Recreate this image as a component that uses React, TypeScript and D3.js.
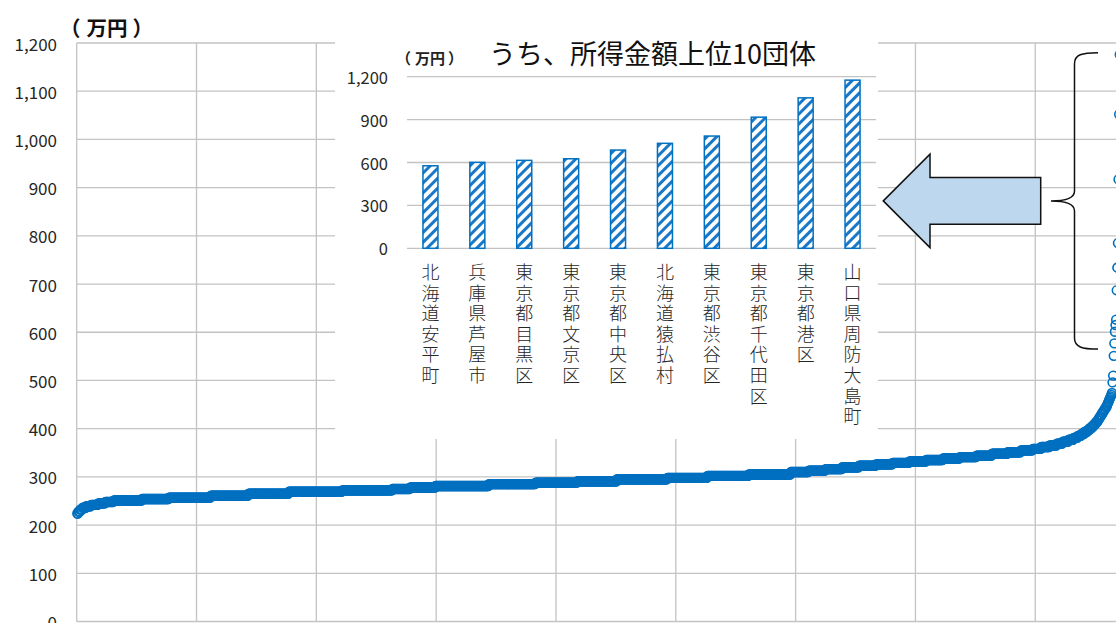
import React from "react";
import * as d3 from "d3";

// Taxable income per taxpayer of every municipality (万円), ascending.
// Each income level is paired with how many municipalities sit at it.
const incomeLevels = [
  224, 228, 232, 236, 239, 242, 245, 248,
  251, 254, 257, 261, 265, 269, 272, 275, 278, 281, 285, 288, 291, 295, 298, 302, 305,
  310, 313, 316, 320, 323, 326, 329, 332, 335, 338, 341, 344, 348, 351,
  355, 358, 362, 365, 369, 373, 377, 381, 385, 389, 393, 397, 401, 405, 409, 413,
  417, 421, 425, 429, 433, 437, 441, 445,
  449, 452, 455, 458, 461, 464, 467, 470, 474, 496, 510, 551,
];
const municipalityCounts = [
  2, 3, 4, 6, 8, 12, 12, 14,
  47, 45, 70, 63, 67, 89, 84, 30, 42, 89, 78, 70, 66, 84, 67, 69, 70,
  30, 28, 28, 28, 28, 28, 28, 28, 28, 28, 28, 26, 26, 22,
  20, 14, 14, 12, 10, 10, 8, 7, 6, 5, 5, 4, 4, 3, 3, 3,
  2, 2, 2, 2, 2, 2, 2, 2,
  1, 1, 1, 1, 1, 1, 1, 1, 1, 1, 1, 1,
];

// The ten highest municipalities (万円)
const topCategories = [
  "北海道安平町",
  "兵庫県芦屋市",
  "東京都目黒区",
  "東京都文京区",
  "東京都中央区",
  "北海道猿払村",
  "東京都渋谷区",
  "東京都千代田区",
  "東京都港区",
  "山口県周防大島町",
];
const topValues = [577, 601, 615, 626, 687, 734, 785, 917, 1052, 1176];

const mainYTicks = [0, 100, 200, 300, 400, 500, 600, 700, 800, 900, 1000, 1100, 1200];
const mainXTicks = [0, 200, 400, 600, 800, 1000, 1200, 1400, 1600, 1800];
const insetYTicks = [0, 300, 600, 900, 1200];

const W = 1116;
const H = 623;
const BLUE = "#0070C0";
const GRID = "#C3C3C3";
const FONT = "'Noto Sans CJK JP', 'Noto Sans', sans-serif";

type Pt = { rank: number; value: number };

export default function App() {
  // expand level/count pairs into ranked points, then append the top ten
  const points: Pt[] = [];
  let rank = 0;
  incomeLevels.forEach((v, i) => {
    for (let c = 0; c < municipalityCounts[i]; c++) {
      rank += 1;
      points.push({ rank, value: v });
    }
  });
  topValues.forEach((v) => {
    rank += 1;
    points.push({ rank, value: v });
  });

  const x = d3.scaleLinear().domain([0, 1800]).range([76.7, 76.7 + 1800 * 0.5991]);
  const y = d3.scaleLinear().domain([0, 1200]).range([621.5, 43]);

  // inset bar chart
  const inset = { left: 335, top: 30, right: 878, bottom: 439 };
  const bx = d3.scaleBand<string>().domain(topCategories).range([407, 876]).paddingInner(0.68).paddingOuter(0.34);
  const by = d3.scaleLinear().domain([0, 1200]).range([248.3, 76.7]);
  const fmt = d3.format(",");

  // brace spanning the top ten, and the arrow pointing to the inset
  const yTop = y(d3.max(topValues)! + 4);
  const yBot = y(d3.min(topValues)! - 12);
  const yMid = (yTop + yBot) / 2;
  const bxR = 1098;
  const bxV = 1074.5;
  const bxTip = 1051;
  const bracePath = [
    `M${bxR},${yTop}`,
    `C${bxR - 16},${yTop} ${bxV},${yTop + 2} ${bxV},${yTop + 11}`,
    `L${bxV},${yMid - 10}`,
    `C${bxV},${yMid - 3} ${bxV - 8},${yMid} ${bxTip},${yMid}`,
    `C${bxV - 8},${yMid} ${bxV},${yMid + 3} ${bxV},${yMid + 10}`,
    `L${bxV},${yBot - 11}`,
    `C${bxV},${yBot - 2} ${bxR - 16},${yBot} ${bxR},${yBot}`,
  ].join(" ");

  const tipX = inset.right + 5.3;
  const headX = 930;
  const tailX = 1040.7;
  const arrowPts = [
    [tipX, yMid],
    [headX, yMid - 46.7],
    [headX, yMid - 23.4],
    [tailX, yMid - 23.4],
    [tailX, yMid + 23.4],
    [headX, yMid + 23.4],
    [headX, yMid + 46.7],
  ]
    .map((p) => p.join(","))
    .join(" ");

  const labelTop = 271;
  const labelPitch = 20.6;

  return (
    <svg
      width={W}
      height={H}
      viewBox={`0 0 ${W} ${H}`}
      style={{ position: "absolute", left: 0, top: 0, background: "#fff", fontFamily: FONT }}
    >
      <defs>
        <pattern id="hatch" patternUnits="userSpaceOnUse" width={7} height={7} patternTransform="rotate(45)">
          <rect width={7} height={7} fill="#fff" />
          <rect x={0} y={0} width={3} height={7} fill="#1A78C8" />
        </pattern>
      </defs>
      <rect width={W} height={H} fill="#fff" />

      {/* main grid */}
      {mainYTicks.map((t) => (
        <line key={`hy${t}`} x1={x(0)} x2={W} y1={y(t)} y2={y(t)} stroke={GRID} strokeWidth={1.3} />
      ))}
      {mainXTicks.map((t) => (
        <line key={`vx${t}`} x1={x(t)} x2={x(t)} y1={y(1200)} y2={y(0)} stroke={GRID} strokeWidth={1.3} />
      ))}

      {/* main y axis labels */}
      {mainYTicks.map((t) => (
        <text key={`ly${t}`} x={57} y={y(t)} textAnchor="end" dominantBaseline="central" fontSize={17} fill="#262626">
          {fmt(t)}
        </text>
      ))}
      <text x={60} y={27} dominantBaseline="central" fontSize={20.5} fontWeight={600} fill="#111">
        <tspan>（</tspan>
        <tspan dx={6}>万円</tspan>
        <tspan dx={5}>）</tspan>
      </text>

      {/* municipalities */}
      <g fill="none" stroke={BLUE} strokeWidth={1.6}>
        {points.map((p) => (
          <circle key={p.rank} cx={x(p.rank)} cy={y(p.value)} r={4.4} />
        ))}
      </g>

      {/* inset panel */}
      <rect x={inset.left} y={inset.top} width={inset.right - inset.left} height={inset.bottom - inset.top} fill="#fff" />
      <text x={652.5} y={52} textAnchor="middle" dominantBaseline="central" fontSize={27} fill="#111">
        うち、所得金額上位10団体
      </text>
      <text x={396} y={57} dominantBaseline="central" fontSize={15} fontWeight={600} fill="#222">
        <tspan>（</tspan>
        <tspan dx={4}>万円</tspan>
        <tspan dx={3}>）</tspan>
      </text>
      {insetYTicks.map((t) => (
        <g key={`iy${t}`}>
          <line x1={407} x2={876} y1={by(t)} y2={by(t)} stroke={GRID} strokeWidth={1.3} />
          <text x={388} y={by(t)} textAnchor="end" dominantBaseline="central" fontSize={16.5} fill="#262626">
            {fmt(t)}
          </text>
        </g>
      ))}
      {topCategories.map((c, i) => (
        <rect
          key={c}
          x={bx(c)}
          y={by(topValues[i])}
          width={bx.bandwidth()}
          height={by(0) - by(topValues[i])}
          fill="url(#hatch)"
          stroke={BLUE}
          strokeWidth={1.5}
        />
      ))}
      {topCategories.map((c) => (
        <g key={`lab${c}`}>
          {Array.from(c).map((ch, j) => (
            <text
              key={j}
              x={bx(c)! + bx.bandwidth() / 2}
              y={labelTop + j * labelPitch}
              textAnchor="middle"
              dominantBaseline="central"
              fontSize={18}
              fontWeight={300}
              fill="#262626"
            >
              {ch}
            </text>
          ))}
        </g>
      ))}

      {/* arrow and brace */}
      <polygon points={arrowPts} fill="#BDD7EE" stroke="#111" strokeWidth={1.5} strokeLinejoin="miter" />
      <path d={bracePath} fill="none" stroke="#111" strokeWidth={1.5} />
    </svg>
  );
}
